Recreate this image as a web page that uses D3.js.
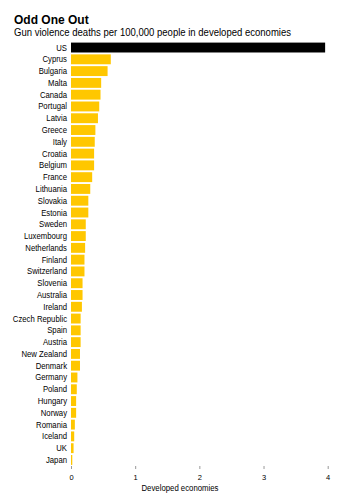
<!DOCTYPE html>
<html><head><meta charset="utf-8">
<script src="https://cdn.jsdelivr.net/npm/d3@7"></script>
<style>body{margin:0;background:#fff}svg{display:block;font-family:"Liberation Sans",Arial,sans-serif}</style>
</head><body>
<script>
const countries = ["US","Cyprus","Bulgaria","Malta","Canada","Portugal","Latvia","Greece","Italy","Croatia","Belgium","France","Lithuania","Slovakia","Estonia","Sweden","Luxembourg","Netherlands","Finland","Switzerland","Slovenia","Australia","Ireland","Czech Republic","Spain","Austria","New Zealand","Denmark","Germany","Poland","Hungary","Norway","Romania","Iceland","UK","Japan"];
const values = [3.96,0.62,0.57,0.47,0.46,0.44,0.42,0.38,0.37,0.36,0.36,0.33,0.30,0.27,0.27,0.23,0.23,0.22,0.21,0.21,0.18,0.18,0.17,0.15,0.15,0.15,0.14,0.14,0.10,0.09,0.08,0.08,0.06,0.05,0.04,0.02];
const xTicks = [0,1,2,3,4];
const title = "Odd One Out";
const subtitle = "Gun violence deaths per 100,000 people in developed economies";
const xLabel = "Developed economies";

const W = 356, H = 500;
const svg = d3.select("body").append("svg").attr("width", W).attr("height", H);
const x = d3.scaleLinear().domain([0,4]).range([71, 327.7]);
const y = d3.scaleBand().domain(countries).range([42, 465.5]).paddingInner(0.16).paddingOuter(0.05);

svg.append("text").attr("x",14).attr("y",24).attr("font-size",12).attr("font-weight","bold").attr("fill","#000").text(title);
svg.append("text").attr("x",14).attr("y",36).attr("font-size",10.2).attr("fill","#000")
  .attr("textLength",277).attr("lengthAdjust","spacingAndGlyphs").text(subtitle);

svg.selectAll("rect.bar").data(countries).join("rect").attr("class","bar")
  .attr("x", x(0)).attr("y", d => y(d))
  .attr("width", (d,i) => x(values[i]) - x(0)).attr("height", y.bandwidth())
  .attr("fill", (d,i) => i === 0 ? "#000" : "#FFC700");

svg.selectAll("text.lab").data(countries).join("text").attr("class","lab")
  .attr("x", 67).attr("y", d => y(d) + y.bandwidth()/2).attr("dy","0.35em")
  .attr("text-anchor","end").attr("font-size",8.6).attr("fill","#000")
  .attr("transform", d => `translate(67,0) scale(0.9,1) translate(-67,0)`)
  .text(d => d);

const axis = d3.axisBottom(x).tickValues(xTicks).tickSize(3).tickPadding(6).tickFormat(d3.format("d"));
const g = svg.append("g").attr("transform","translate(0,466)").call(axis);
g.select(".domain").remove();
g.selectAll(".tick line").attr("stroke","#999");
g.selectAll(".tick text").attr("font-size",7.5).attr("fill","#000").attr("font-family","'Liberation Sans',Arial,sans-serif");

svg.append("text").attr("x",180).attr("y",491).attr("text-anchor","middle").attr("font-size",8.4).attr("fill","#000")
  .attr("textLength",77).attr("lengthAdjust","spacingAndGlyphs").text(xLabel);
</script>
</body></html>
